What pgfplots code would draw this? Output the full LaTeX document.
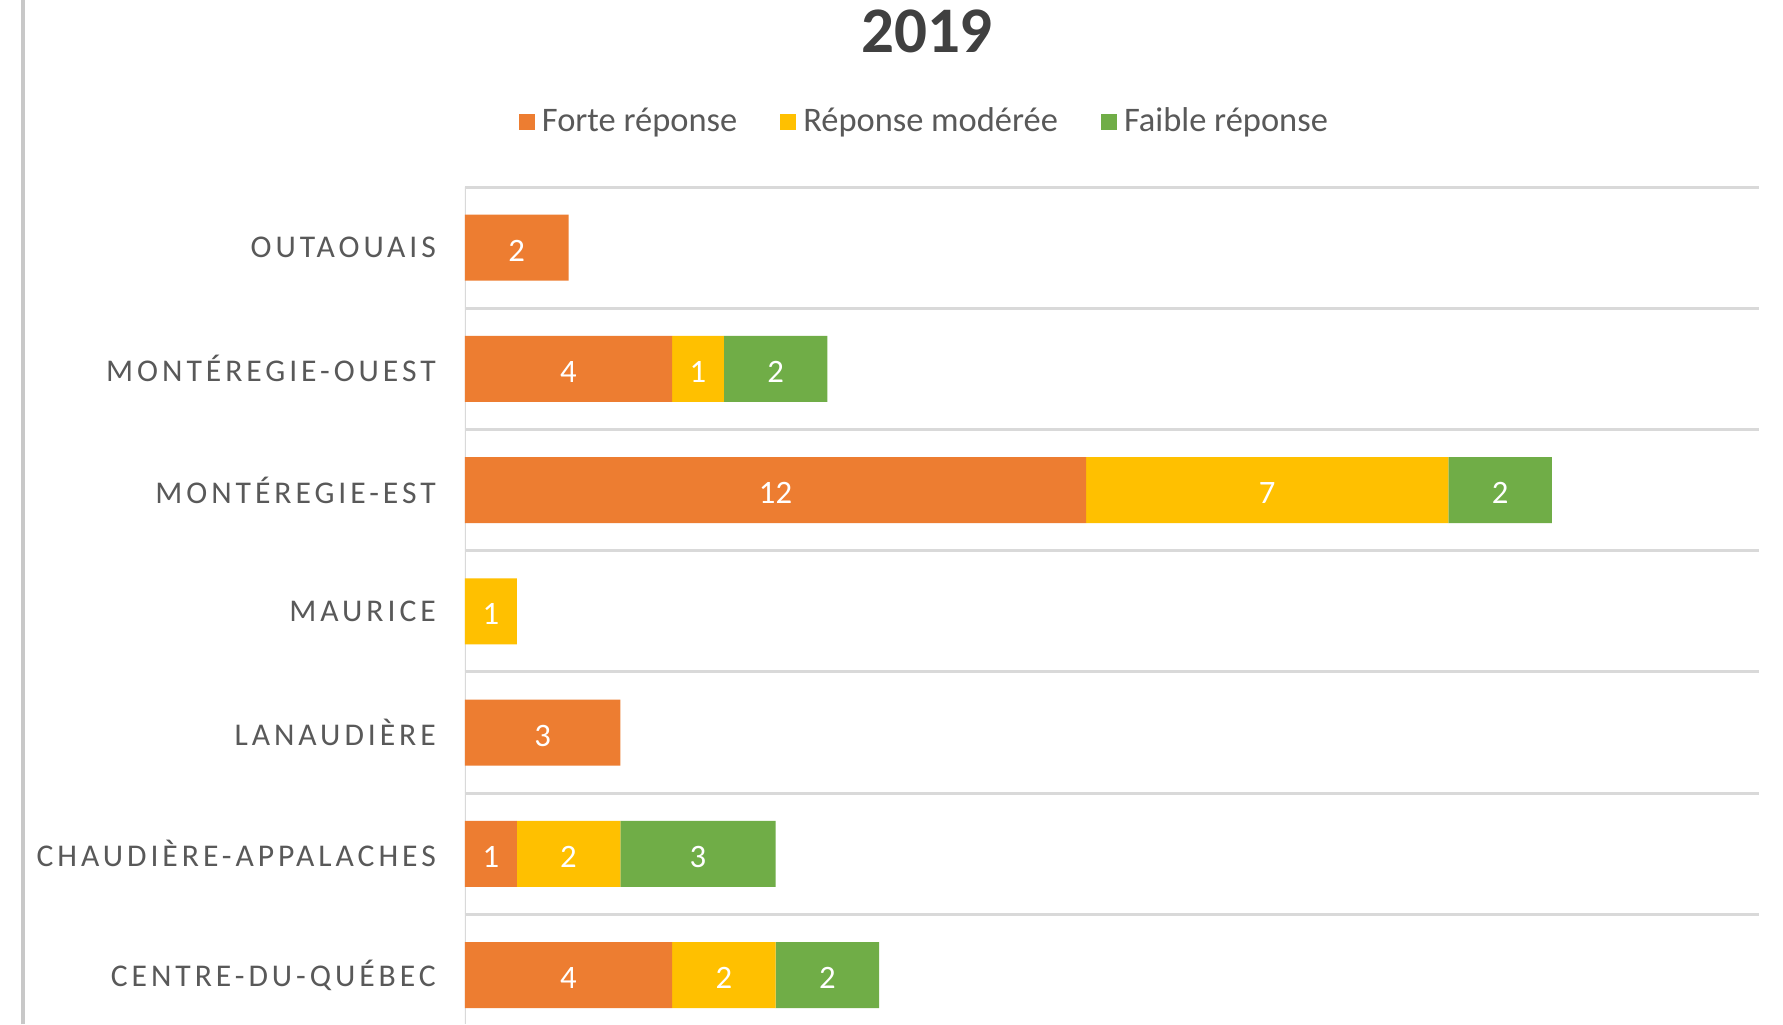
\documentclass[border=0pt]{standalone}
\usepackage{pgfplots}
\usepackage{pgfplotstable}
\pgfplotsset{compat=1.18}
\usepackage{fontspec}
\setmainfont{Carlito}
\newfontfamily\spaced[LetterSpace=12.5]{Carlito}
\definecolor{cOr}{HTML}{ED7D31}
\definecolor{cYe}{HTML}{FFC000}
\definecolor{cGr}{HTML}{70AD47}
\definecolor{cTx}{HTML}{595959}
\definecolor{cTitle}{HTML}{404040}
\definecolor{cGrid}{HTML}{D9D9D9}
\pgfplotstableread{
y  forte  moderee  faible
0  4  2  2
1  1  2  3
2  3  0  0
3  0  1  0
4  12 7  2
5  4  1  2
6  2  0  0
}\datatable
\begin{document}
\begin{tikzpicture}
\useasboundingbox (0,0) rectangle (17.83,10.24);
\fill[white] (0,0) rectangle (17.83,10.24);
\draw[line width=0.04cm, color=cGrid!92!black] (0.23,0) -- (0.23,10.24);
\node[font=\fontsize{18.5}{20}\selectfont\bfseries, text=cTitle] at (9.27,9.93) {2019};
\begin{axis}[
  at={(4.65cm,0cm)}, anchor=south west,
  scale only axis, width=12.94cm, height=8.37cm,
  xbar stacked, bar width=0.66cm,
  xmin=0, xmax=25, ymin=-0.404, ymax=6.5,
  axis line style={draw=none},
  xtick=\empty,
  ytick={0,...,6},
  yticklabels={CENTRE-DU-QUÉBEC, CHAUDIÈRE-APPALACHES, LANAUDIÈRE, MAURICE, MONTÉREGIE-EST, MONTÉREGIE-OUEST, OUTAOUAIS},
  yticklabel style={font=\spaced\fontsize{9}{10}\selectfont, text=cTx, inner sep=0pt, xshift=-0.285cm},
  major tick length=0pt,
  extra y ticks={0.5,1.5,2.5,3.5,4.5,5.5,6.5},
  extra y tick labels={},
  extra y tick style={ymajorgrids=true},
  major grid style={color=cGrid, line width=0.03cm},
  point meta=explicit,
  nodes near coords={\pgfmathfloatifflags{\pgfplotspointmeta}{0}{}{\pgfmathprintnumber[assume math mode=true]{\pgfplotspointmeta}}},
  every node near coord/.append style={anchor=center, yshift=-0.03cm, text=white, font=\fontsize{9.3}{10}\selectfont},
  legend style={at={(0.357,1.0777)}, anchor=center, draw=none, fill=none,
    font=\fontsize{9.8}{12}\selectfont, text=cTx, legend columns=3,
    /tikz/every even column/.append style={column sep=0.36cm}},
]
\addplot[fill=cOr, draw=none, legend image code/.code={\fill[cOr] (0cm,-0.08cm) rectangle (0.16cm,0.08cm);}] table[x=forte, y=y, meta=forte] {\datatable};
\addplot[fill=cYe, draw=none, legend image code/.code={\fill[cYe] (0cm,-0.08cm) rectangle (0.16cm,0.08cm);}] table[x=moderee, y=y, meta=moderee] {\datatable};
\addplot[fill=cGr, draw=none, legend image code/.code={\fill[cGr] (0cm,-0.08cm) rectangle (0.16cm,0.08cm);}] table[x=faible, y=y, meta=faible] {\datatable};
\legend{Forte réponse, Réponse modérée, Faible réponse}
\draw[color=cGrid, line width=0.02cm] (axis cs:0,-0.404) -- (axis cs:0,6.5);
\end{axis}
\end{tikzpicture}
\end{document}
